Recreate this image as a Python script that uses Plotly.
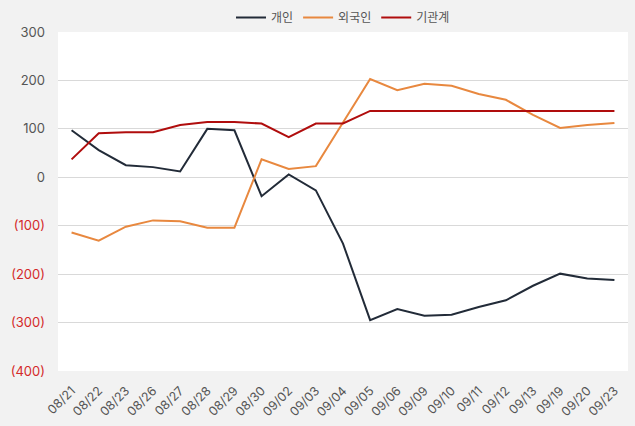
import plotly.graph_objects as go

dates = ["08/21","08/22","08/23","08/26","08/27","08/28","08/29","08/30","09/02","09/03",
         "09/04","09/05","09/06","09/09","09/10","09/11","09/12","09/13","09/19","09/20","09/23"]
individual = [97, 56, 25, 21, 12, 100, 97, -39, 6, -27, -137, -295, -272, -286, -284, -268, -254, -224, -199, -209, -212]
foreign = [-114, -131, -102, -89, -91, -104, -104, 37, 17, 23, 113, 203, 180, 193, 189, 172, 160, 129, 102, 108, 112]
institution = [37, 91, 93, 93, 108, 114, 114, 111, 83, 111, 111, 137, 137, 137, 137, 137, 137, 137, 137, 137, 137]

series_names = ["개인", "외국인", "기관계"]
colors = ["#222b38", "#e8883f", "#b00d0d"]

tick_vals = [300, 200, 100, 0, -100, -200, -300, -400]
tick_text = ["300", "200", "100", "0",
             "<span style='color:#d42a2a'>(100)</span>",
             "<span style='color:#d42a2a'>(200)</span>",
             "<span style='color:#d42a2a'>(300)</span>",
             "<span style='color:#d42a2a'>(400)</span>"]

fig = go.Figure()
for name, vals, c in zip(series_names, [individual, foreign, institution], colors):
    fig.add_trace(go.Scatter(x=dates, y=vals, mode="lines", name=name,
                             line=dict(color=c, width=2)))

fig.update_layout(
    width=635, height=426,
    paper_bgcolor="#f2f2f2", plot_bgcolor="#ffffff",
    margin=dict(l=58, r=7, t=32, b=55, autoexpand=False),
    font=dict(family="Inter, Noto Sans CJK KR, sans-serif", size=12, color="#555555"),
    legend=dict(orientation="h", x=0.5, xanchor="center", y=1.0, yanchor="bottom",
                font=dict(size=12, color="#555555", family="Noto Sans CJK KR, sans-serif"),
                bgcolor="rgba(0,0,0,0)", itemwidth=30, tracegroupgap=0),
    showlegend=True,
)
fig.update_xaxes(type="category", range=[-0.5, len(dates) - 0.5], tickangle=-45,
                 showgrid=False, zeroline=False, showline=False, ticks="", automargin=False,
                 ticklabelstandoff=9, tickfont=dict(size=12.5, color="#555555"))
fig.update_yaxes(range=[-400, 300], tickvals=tick_vals, ticktext=tick_text, automargin=False,
                 showgrid=True, gridcolor="#d9d9d9", gridwidth=1, zeroline=False,
                 showline=False, ticks="", ticklabelstandoff=12,
                 tickfont=dict(size=13, color="#555555"))

fig.write_html("out.html")
